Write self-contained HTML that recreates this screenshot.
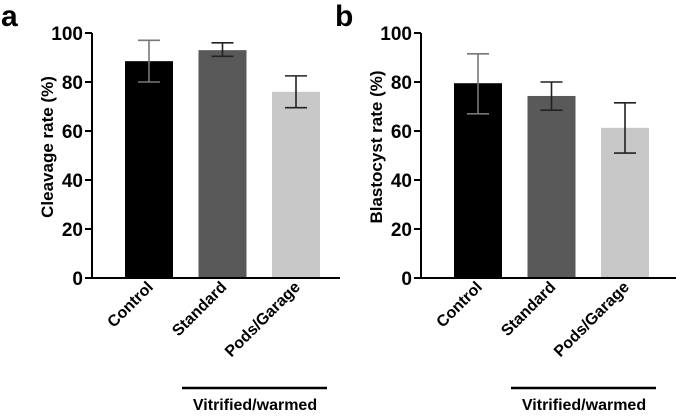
<!DOCTYPE html>
<html><head><meta charset="utf-8"><style>
body{margin:0;background:#fff}
svg text{font-family:"Liberation Sans",Arial,sans-serif;font-weight:bold;fill:#000}
</style></head><body>
<svg id="chart" width="676" height="412" viewBox="0 0 676 412" xmlns="http://www.w3.org/2000/svg"></svg>
<script>
const categories = ["Control","Standard","Pods/Garage"];
const colors = ["#000000","#595959","#c8c8c8"];
const cleavageMean = [88.5, 93, 76];
const cleavageHigh = [97, 96, 82.5];
const cleavageLow = [80, 90.5, 69.5];
const blastMean = [79.5, 74.3, 61.3];
const blastHigh = [91.5, 80, 71.5];
const blastLow = [67, 68.5, 51];
const yTicks = [0,20,40,60,80,100];

const svg = document.getElementById('chart');
const NS = "http://www.w3.org/2000/svg";
function mk(tag, attrs, parent){
  const e = document.createElementNS(NS, tag);
  for (const k in attrs) e.setAttribute(k, attrs[k]);
  (parent||svg).appendChild(e);
  return e;
}
const y = v => 278 - v * 2.45;

function panel(letter, ox, axisX, axisEnd, title, means, highs, lows, name){
  const g = mk('g', {});
  
  
  const lt = mk('text', {x: ox === 0 ? 1 : 335, y: 26, style: 'font-size:30px'}, g);
  lt.textContent = letter;
  
  
  const barX = i => axisX + 33 + i * 73.5;
  means.forEach((m, i) => {
    const r = mk('rect', {x: barX(i), y: y(m), width: 48, height: y(0) - y(m), fill: colors[i]}, g);
    
    
    const cx = barX(i) + 24;
    const eb = mk('path', {d: `M${cx} ${y(highs[i])}V${y(lows[i])}M${cx-11} ${y(highs[i])}H${cx+11}M${cx-11} ${y(lows[i])}H${cx+11}`, stroke: i === 0 ? '#777' : '#222', 'stroke-width': 1.6, fill: 'none'}, g);
    
    
    const t = mk('text', {x: cx + 5, y: 288, style: 'font-size:16px', 'text-anchor': 'end', transform: `rotate(-45 ${cx+5} 288)`}, g);
    t.textContent = categories[i];
    
    
  });
  const ax = mk('path', {d: `M${axisX} ${y(100)}V${y(0)}H${axisEnd}`, stroke: '#000', 'stroke-width': 2, fill: 'none'}, g);
  
  
  yTicks.forEach(v => {
    const tk = mk('line', {x1: axisX - 7, x2: axisX, y1: y(v), y2: y(v), stroke: '#000', 'stroke-width': 2}, g);
    
    
    const tl = mk('text', {x: axisX - 9, y: y(v) + 7, style: 'font-size:19px', 'text-anchor': 'end'}, g);
    tl.textContent = v;
    
    
  });
  const yt = mk('text', {x: 0, y: 0, style: 'font-size:17px', 'text-anchor': 'middle', transform: `translate(${axisX - 39} 147) rotate(-90)`}, g);
  yt.textContent = title;
  
  
  const gl = mk('line', {x1: axisX + 90, x2: axisX + 235, y1: 388, y2: 388, stroke: '#000', 'stroke-width': 2.5}, g);
  
  
  const gt = mk('text', {x: axisX + 163, y: 410, style: 'font-size:16px', 'text-anchor': 'middle'}, g);
  gt.textContent = 'Vitrified/warmed';
  
  
}
panel('a', 0, 92, 340, 'Cleavage rate (%)', cleavageMean, cleavageHigh, cleavageLow, 'panel-a-cleavage-chart');
panel('b', 337, 421, 676, 'Blastocyst rate (%)', blastMean, blastHigh, blastLow, 'panel-b-blastocyst-chart');
</script>
</body></html>
